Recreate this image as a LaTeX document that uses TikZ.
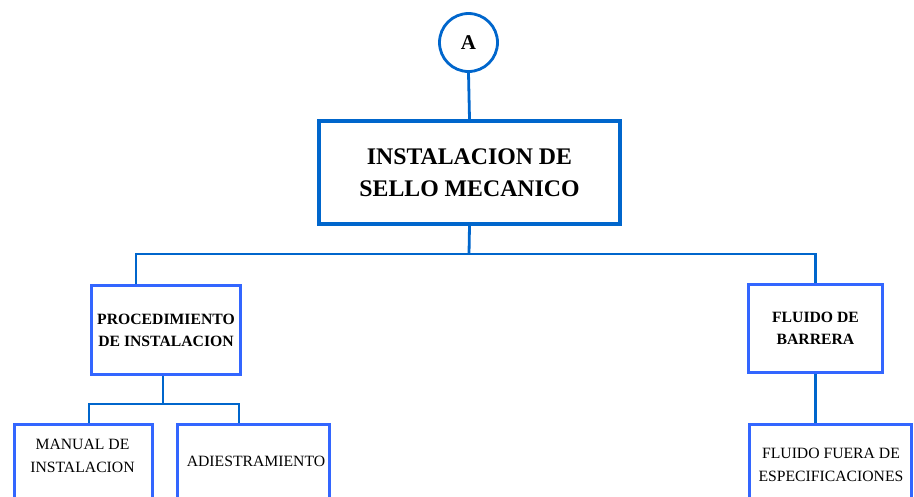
\documentclass[tikz,border=0pt]{standalone}
\usepackage{fontspec}
\setmainfont{Liberation Serif}
\definecolor{lineblue}{HTML}{0066CC}
\definecolor{boxblue}{HTML}{3366FF}
\begin{document}
\begin{tikzpicture}[x=1pt,y=-1pt,
  conn/.style={draw=lineblue,line width=2.8pt},
  mainbox/.style={draw=lineblue,line width=4pt,rectangle,inner sep=0pt,align=center,
    font=\fontsize{23.8}{32}\selectfont\bfseries},
  smallbox/.style={draw=boxblue,line width=3pt,rectangle,inner sep=0pt,align=center,
    font=\fontsize{15.7}{22}\selectfont\bfseries},
  plaintext/.style={inner sep=0pt,align=center,font=\fontsize{15.7}{23}\selectfont},
  ]
\useasboundingbox (0,0) rectangle (914,496);
\clip (0,0) rectangle (914,496);

\node[circle,draw=lineblue,line width=2.8pt,minimum size=58pt,inner sep=0pt,
  font=\fontsize{21}{24}\selectfont\bfseries] (A) at (468.5,42.5) {A};

\node[mainbox,minimum width=301pt,minimum height=103pt] (main) at (469.5,172.5)
  {INSTALACION DE\\SELLO MECANICO};

\node[smallbox,minimum width=149pt,minimum height=89pt] (proc) at (166,330)
  {PROCEDIMIENTO\\DE INSTALACION};
\node[smallbox,minimum width=134pt,minimum height=88pt] (flu) at (815.5,328.5)
  {FLUIDO DE\\BARRERA};

\node[smallbox,minimum width=138pt,minimum height=104pt] (man) at (83.5,476.5) {};
\node[smallbox,minimum width=152pt,minimum height=104pt] (adi) at (253.5,476.5) {};
\node[smallbox,minimum width=162pt,minimum height=104pt] (fue) at (830.5,476.5) {};

\node[plaintext] (mantext) at (82.5,456) {MANUAL DE\\INSTALACION};
\node[plaintext] (aditext) at (256,461) {ADIESTRAMIENTO};
\node[plaintext] (fuetext) at (831,465) {FLUIDO FUERA DE\\ESPECIFICACIONES};

\draw[conn] (A.south) -- (main.north);

\coordinate (bus) at (469,254);
\coordinate (pl) at (136,254);
\draw[conn] (main.south) -- (bus);
\draw[conn] (pl |- proc.north) -- (pl) -- (bus) -| (flu.north);

\coordinate (pd) at (163,404);
\coordinate (ml) at (89,404);
\coordinate (ar) at (239,404);
\draw[conn] (pd |- proc.south) -- (pd);
\draw[conn] (ml |- man.north) -- (ml) -- (ar) -- (ar |- adi.north);

\draw[conn] (flu.south) -- (flu.south |- fue.north);
\end{tikzpicture}
\end{document}
